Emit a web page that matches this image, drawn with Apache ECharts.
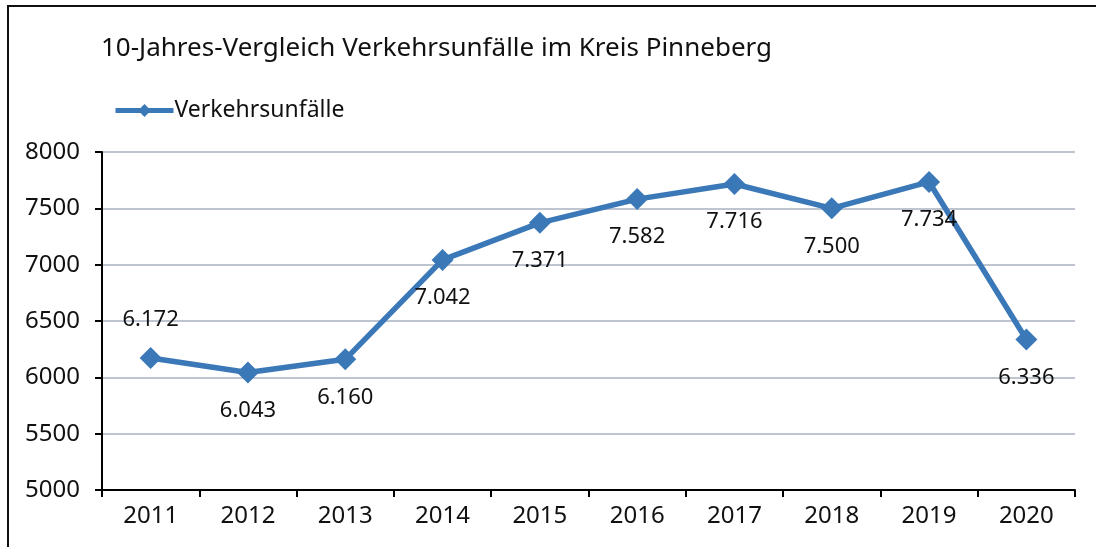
<!DOCTYPE html>
<html>
<head>
<meta charset="utf-8">
<title>Verkehrsunfälle Kreis Pinneberg</title>
<script src="https://cdn.jsdelivr.net/npm/echarts@6/dist/echarts.min.js"></script>
<style>
  html, body { margin: 0; padding: 0; background: #fff; }
  #chart { width: 1096px; height: 547px; }
</style>
</head>
<body>
<div id="chart"></div>
<script>
const years = ['2011', '2012', '2013', '2014', '2015', '2016', '2017', '2018', '2019', '2020']
const unfaelle = [6172, 6043, 6160, 7042, 7371, 7582, 7716, 7500, 7734, 6336]
// label above only for the first point, below for the rest
const labelPos = ['top', 'bottom', 'bottom', 'bottom', 'bottom', 'bottom', 'bottom', 'bottom', 'bottom', 'bottom']

const fontFamily = '"Noto Sans", sans-serif'
const blue = '#3b78b8'

const chart = echarts.init(document.getElementById('chart'))
chart.setOption({
  animation: false,
  textStyle: { fontFamily: fontFamily },
  graphic: [{
    type: 'rect',
    shape: { x: 8, y: 6, width: 1200, height: 700 },
    style: { fill: 'none', stroke: '#111', lineWidth: 2 },
    silent: true
  }],
  title: {
    text: '10-Jahres-Vergleich Verkehrsunfälle im Kreis Pinneberg',
    left: 96,
    top: 31,
    textStyle: { fontFamily: fontFamily, fontSize: 26, fontWeight: 'normal', color: '#111' }
  },
  legend: {
    left: 108,
    top: 94,
    itemWidth: 58,
    itemHeight: 16,
    itemGap: 4,
    lineStyle: { width: 5 },
    textStyle: { fontFamily: fontFamily, fontSize: 23, color: '#111', padding: [0, 0, 0, -4] },
    data: ['Verkehrsunfälle']
  },
  grid: {
    left: 102,
    right: 21,
    top: 152,
    bottom: 57
  },
  xAxis: {
    type: 'category',
    data: years,
    boundaryGap: true,
    axisLine: { lineStyle: { color: '#000', width: 2 } },
    axisTick: { show: true, length: 7, lineStyle: { color: '#000', width: 2 } },
    axisLabel: { fontFamily: fontFamily, fontSize: 24, color: '#111', margin: 14 }
  },
  yAxis: {
    type: 'value',
    min: 5000,
    max: 8000,
    interval: 500,
    axisLine: { show: true, lineStyle: { color: '#000', width: 2 } },
    axisTick: { show: true, length: 7, lineStyle: { color: '#000', width: 2 } },
    axisLabel: { fontFamily: fontFamily, fontSize: 24, color: '#111', margin: 22, formatter: v => String(v) },
    splitLine: { lineStyle: { color: '#a8b2c2', width: 1.5 } }
  },
  series: [{
    name: 'Verkehrsunfälle',
    type: 'line',
    data: unfaelle.map((v, i) => ({
      value: v,
      label: { position: labelPos[i] }
    })),
    symbol: 'diamond',
    symbolSize: 22,
    lineStyle: { color: blue, width: 5.5 },
    itemStyle: { color: blue },
    label: {
      show: true,
      distance: 16,
      fontFamily: fontFamily,
      fontSize: 22,
      color: '#111',
      formatter: p => p.value.toLocaleString('de-DE')
    }
  }]
})
</script>
</body>
</html>
